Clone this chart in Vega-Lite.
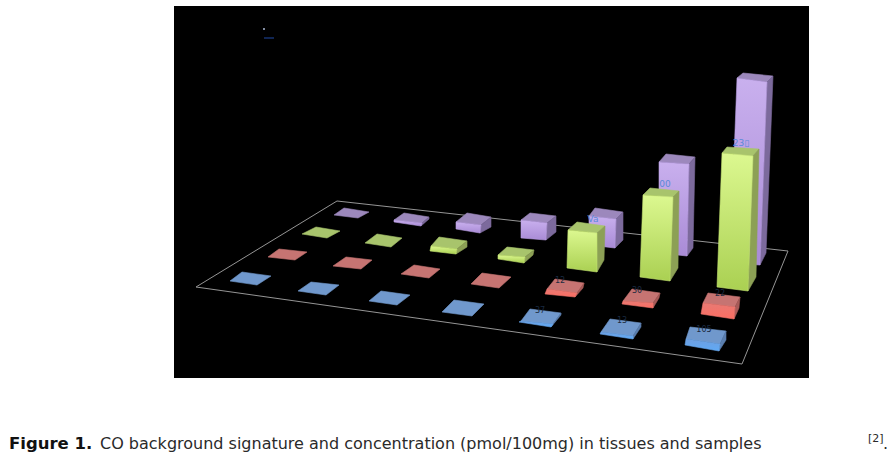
{"$schema":"https://vega.github.io/schema/vega-lite/v6.json","width":894,"height":461,"autosize":{"type":"fit","contains":"padding"},"padding":0,"background":"white","view":{"stroke":null},
"datasets":{
"panel":[{"x":174,"x2":809,"y":6,"y2":378}],
"floor":[{"o":0,"x":196,"y":287},{"o":1,"x":337,"y":201},{"o":2,"x":788,"y":251},{"o":3,"x":742,"y":364},{"o":4,"x":196,"y":287}],
"tick":[{"o":0,"x":264,"y":38},{"o":1,"x":274,"y":38}],
"dot":[{"x":264,"y":29}],
"labels":[{"x":741,"y":143,"t":"23▯","c":"blue"},{"x":665,"y":184,"t":"00","c":"blue"},{"x":593,"y":219,"t":"Va","c":"blue"},{"x":704,"y":330,"t":"105","c":"dark"},{"x":622,"y":321,"t":"13","c":"dark"},{"x":540,"y":311,"t":"37","c":"dark"},{"x":560,"y":281,"t":"12","c":"dark"},{"x":637,"y":291,"t":"30","c":"dark"},{"x":720,"y":294,"t":"22","c":"dark"}],
"caption":[{"x":9,"y":449,"t":"Figure 1.","k":"b"},{"x":100,"y":449,"t":"CO background signature and concentration (pmol/100mg) in tissues and samples","k":"r"},{"x":868,"y":442,"t":"[2]","k":"s"},{"x":883,"y":449,"t":".","k":"r"}],
"faces":[
{"s":"P","n":1,"f":"top","o":0,"x":344,"y":208},{"s":"P","n":1,"f":"top","o":1,"x":369,"y":212},{"s":"P","n":1,"f":"top","o":2,"x":358,"y":218},{"s":"P","n":1,"f":"top","o":3,"x":334,"y":215},
{"s":"P","n":2,"f":"top","o":0,"x":404,"y":213},{"s":"P","n":2,"f":"top","o":1,"x":429,"y":217},{"s":"P","n":2,"f":"top","o":2,"x":422,"y":223},{"s":"P","n":2,"f":"top","o":3,"x":394,"y":220},
{"s":"P","n":2,"f":"front","o":0,"x":394,"y":220},{"s":"P","n":2,"f":"front","o":1,"x":422,"y":223},{"s":"P","n":2,"f":"front","o":2,"x":421,"y":226},{"s":"P","n":2,"f":"front","o":3,"x":394,"y":222},
{"s":"P","n":2,"f":"side","o":0,"x":429,"y":217},{"s":"P","n":2,"f":"side","o":1,"x":422,"y":223},{"s":"P","n":2,"f":"side","o":2,"x":421,"y":226},{"s":"P","n":2,"f":"side","o":3,"x":429,"y":219},
{"s":"P","n":3,"f":"top","o":0,"x":467,"y":213},{"s":"P","n":3,"f":"top","o":1,"x":491,"y":217},{"s":"P","n":3,"f":"top","o":2,"x":481,"y":225},{"s":"P","n":3,"f":"top","o":3,"x":456,"y":222},
{"s":"P","n":3,"f":"front","o":0,"x":456,"y":222},{"s":"P","n":3,"f":"front","o":1,"x":481,"y":225},{"s":"P","n":3,"f":"front","o":2,"x":480,"y":233},{"s":"P","n":3,"f":"front","o":3,"x":456,"y":229},
{"s":"P","n":3,"f":"side","o":0,"x":491,"y":217},{"s":"P","n":3,"f":"side","o":1,"x":481,"y":225},{"s":"P","n":3,"f":"side","o":2,"x":480,"y":233},{"s":"P","n":3,"f":"side","o":3,"x":491,"y":227},
{"s":"P","n":4,"f":"top","o":0,"x":530,"y":213},{"s":"P","n":4,"f":"top","o":1,"x":556,"y":216},{"s":"P","n":4,"f":"top","o":2,"x":547,"y":223},{"s":"P","n":4,"f":"top","o":3,"x":521,"y":220},
{"s":"P","n":4,"f":"front","o":0,"x":521,"y":220},{"s":"P","n":4,"f":"front","o":1,"x":547,"y":223},{"s":"P","n":4,"f":"front","o":2,"x":546,"y":240},{"s":"P","n":4,"f":"front","o":3,"x":521,"y":238},
{"s":"P","n":4,"f":"side","o":0,"x":556,"y":216},{"s":"P","n":4,"f":"side","o":1,"x":547,"y":223},{"s":"P","n":4,"f":"side","o":2,"x":546,"y":240},{"s":"P","n":4,"f":"side","o":3,"x":556,"y":232},
{"s":"P","n":5,"f":"top","o":0,"x":595,"y":208},{"s":"P","n":5,"f":"top","o":1,"x":623,"y":212},{"s":"P","n":5,"f":"top","o":2,"x":616,"y":219},{"s":"P","n":5,"f":"top","o":3,"x":589,"y":216},
{"s":"P","n":5,"f":"front","o":0,"x":589,"y":216},{"s":"P","n":5,"f":"front","o":1,"x":616,"y":219},{"s":"P","n":5,"f":"front","o":2,"x":615,"y":248},{"s":"P","n":5,"f":"front","o":3,"x":589,"y":245},
{"s":"P","n":5,"f":"side","o":0,"x":623,"y":212},{"s":"P","n":5,"f":"side","o":1,"x":616,"y":219},{"s":"P","n":5,"f":"side","o":2,"x":615,"y":248},{"s":"P","n":5,"f":"side","o":3,"x":623,"y":240},
{"s":"P","n":6,"f":"top","o":0,"x":666,"y":154},{"s":"P","n":6,"f":"top","o":1,"x":695,"y":157},{"s":"P","n":6,"f":"top","o":2,"x":689,"y":164},{"s":"P","n":6,"f":"top","o":3,"x":659,"y":162},
{"s":"P","n":6,"f":"front","o":0,"x":659,"y":162},{"s":"P","n":6,"f":"front","o":1,"x":689,"y":164},{"s":"P","n":6,"f":"front","o":2,"x":687,"y":256},{"s":"P","n":6,"f":"front","o":3,"x":659,"y":253},
{"s":"P","n":6,"f":"side","o":0,"x":695,"y":157},{"s":"P","n":6,"f":"side","o":1,"x":689,"y":164},{"s":"P","n":6,"f":"side","o":2,"x":687,"y":256},{"s":"P","n":6,"f":"side","o":3,"x":693,"y":248},
{"s":"P","n":7,"f":"top","o":0,"x":743,"y":73},{"s":"P","n":7,"f":"top","o":1,"x":773,"y":76},{"s":"P","n":7,"f":"top","o":2,"x":767,"y":82},{"s":"P","n":7,"f":"top","o":3,"x":737,"y":78},
{"s":"P","n":7,"f":"front","o":0,"x":737,"y":78},{"s":"P","n":7,"f":"front","o":1,"x":767,"y":82},{"s":"P","n":7,"f":"front","o":2,"x":760,"y":265},{"s":"P","n":7,"f":"front","o":3,"x":730,"y":263},
{"s":"P","n":7,"f":"side","o":0,"x":773,"y":76},{"s":"P","n":7,"f":"side","o":1,"x":767,"y":82},{"s":"P","n":7,"f":"side","o":2,"x":760,"y":265},{"s":"P","n":7,"f":"side","o":3,"x":766,"y":253},

{"s":"G","n":1,"f":"top","o":0,"x":316,"y":227},{"s":"G","n":1,"f":"top","o":1,"x":340,"y":231},{"s":"G","n":1,"f":"top","o":2,"x":327,"y":238},{"s":"G","n":1,"f":"top","o":3,"x":302,"y":234},
{"s":"G","n":2,"f":"top","o":0,"x":377,"y":234},{"s":"G","n":2,"f":"top","o":1,"x":402,"y":238},{"s":"G","n":2,"f":"top","o":2,"x":391,"y":247},{"s":"G","n":2,"f":"top","o":3,"x":365,"y":243},
{"s":"G","n":3,"f":"top","o":0,"x":439,"y":237},{"s":"G","n":3,"f":"top","o":1,"x":467,"y":241},{"s":"G","n":3,"f":"top","o":2,"x":457,"y":249},{"s":"G","n":3,"f":"top","o":3,"x":431,"y":246},
{"s":"G","n":3,"f":"front","o":0,"x":431,"y":246},{"s":"G","n":3,"f":"front","o":1,"x":457,"y":249},{"s":"G","n":3,"f":"front","o":2,"x":456,"y":254},{"s":"G","n":3,"f":"front","o":3,"x":430,"y":251},
{"s":"G","n":3,"f":"side","o":0,"x":467,"y":241},{"s":"G","n":3,"f":"side","o":1,"x":457,"y":249},{"s":"G","n":3,"f":"side","o":2,"x":456,"y":254},{"s":"G","n":3,"f":"side","o":3,"x":467,"y":247},
{"s":"G","n":4,"f":"top","o":0,"x":507,"y":247},{"s":"G","n":4,"f":"top","o":1,"x":534,"y":250},{"s":"G","n":4,"f":"top","o":2,"x":525,"y":257},{"s":"G","n":4,"f":"top","o":3,"x":498,"y":255},
{"s":"G","n":4,"f":"front","o":0,"x":498,"y":255},{"s":"G","n":4,"f":"front","o":1,"x":525,"y":257},{"s":"G","n":4,"f":"front","o":2,"x":524,"y":263},{"s":"G","n":4,"f":"front","o":3,"x":498,"y":259},
{"s":"G","n":4,"f":"side","o":0,"x":534,"y":250},{"s":"G","n":4,"f":"side","o":1,"x":525,"y":257},{"s":"G","n":4,"f":"side","o":2,"x":524,"y":263},{"s":"G","n":4,"f":"side","o":3,"x":533,"y":255},
{"s":"G","n":5,"f":"top","o":0,"x":577,"y":222},{"s":"G","n":5,"f":"top","o":1,"x":605,"y":226},{"s":"G","n":5,"f":"top","o":2,"x":597,"y":233},{"s":"G","n":5,"f":"top","o":3,"x":568,"y":230},
{"s":"G","n":5,"f":"front","o":0,"x":568,"y":230},{"s":"G","n":5,"f":"front","o":1,"x":597,"y":233},{"s":"G","n":5,"f":"front","o":2,"x":597,"y":272},{"s":"G","n":5,"f":"front","o":3,"x":567,"y":268},
{"s":"G","n":5,"f":"side","o":0,"x":605,"y":226},{"s":"G","n":5,"f":"side","o":1,"x":597,"y":233},{"s":"G","n":5,"f":"side","o":2,"x":597,"y":272},{"s":"G","n":5,"f":"side","o":3,"x":604,"y":260},
{"s":"G","n":6,"f":"top","o":0,"x":650,"y":188},{"s":"G","n":6,"f":"top","o":1,"x":679,"y":191},{"s":"G","n":6,"f":"top","o":2,"x":673,"y":197},{"s":"G","n":6,"f":"top","o":3,"x":643,"y":195},
{"s":"G","n":6,"f":"front","o":0,"x":643,"y":195},{"s":"G","n":6,"f":"front","o":1,"x":673,"y":197},{"s":"G","n":6,"f":"front","o":2,"x":670,"y":281},{"s":"G","n":6,"f":"front","o":3,"x":640,"y":277},
{"s":"G","n":6,"f":"side","o":0,"x":679,"y":191},{"s":"G","n":6,"f":"side","o":1,"x":673,"y":197},{"s":"G","n":6,"f":"side","o":2,"x":670,"y":281},{"s":"G","n":6,"f":"side","o":3,"x":678,"y":268},
{"s":"G","n":7,"f":"top","o":0,"x":727,"y":147},{"s":"G","n":7,"f":"top","o":1,"x":759,"y":149},{"s":"G","n":7,"f":"top","o":2,"x":753,"y":156},{"s":"G","n":7,"f":"top","o":3,"x":722,"y":153},
{"s":"G","n":7,"f":"front","o":0,"x":722,"y":153},{"s":"G","n":7,"f":"front","o":1,"x":753,"y":156},{"s":"G","n":7,"f":"front","o":2,"x":748,"y":291},{"s":"G","n":7,"f":"front","o":3,"x":717,"y":287},
{"s":"G","n":7,"f":"side","o":0,"x":759,"y":149},{"s":"G","n":7,"f":"side","o":1,"x":753,"y":156},{"s":"G","n":7,"f":"side","o":2,"x":748,"y":291},{"s":"G","n":7,"f":"side","o":3,"x":756,"y":277},

{"s":"R","n":1,"f":"top","o":0,"x":279,"y":249},{"s":"R","n":1,"f":"top","o":1,"x":307,"y":252},{"s":"R","n":1,"f":"top","o":2,"x":295,"y":260},{"s":"R","n":1,"f":"top","o":3,"x":268,"y":257},
{"s":"R","n":2,"f":"top","o":0,"x":346,"y":257},{"s":"R","n":2,"f":"top","o":1,"x":372,"y":260},{"s":"R","n":2,"f":"top","o":2,"x":361,"y":269},{"s":"R","n":2,"f":"top","o":3,"x":333,"y":266},
{"s":"R","n":3,"f":"top","o":0,"x":414,"y":265},{"s":"R","n":3,"f":"top","o":1,"x":440,"y":269},{"s":"R","n":3,"f":"top","o":2,"x":429,"y":278},{"s":"R","n":3,"f":"top","o":3,"x":401,"y":274},
{"s":"R","n":4,"f":"top","o":0,"x":482,"y":273},{"s":"R","n":4,"f":"top","o":1,"x":511,"y":277},{"s":"R","n":4,"f":"top","o":2,"x":499,"y":288},{"s":"R","n":4,"f":"top","o":3,"x":471,"y":284},
{"s":"R","n":5,"f":"top","o":0,"x":555,"y":279},{"s":"R","n":5,"f":"top","o":1,"x":584,"y":283},{"s":"R","n":5,"f":"top","o":2,"x":577,"y":293},{"s":"R","n":5,"f":"top","o":3,"x":547,"y":289},
{"s":"R","n":5,"f":"front","o":0,"x":547,"y":289},{"s":"R","n":5,"f":"front","o":1,"x":577,"y":293},{"s":"R","n":5,"f":"front","o":2,"x":575,"y":297},{"s":"R","n":5,"f":"front","o":3,"x":545,"y":294},
{"s":"R","n":5,"f":"side","o":0,"x":584,"y":283},{"s":"R","n":5,"f":"side","o":1,"x":577,"y":293},{"s":"R","n":5,"f":"side","o":2,"x":575,"y":297},{"s":"R","n":5,"f":"side","o":3,"x":583,"y":288},
{"s":"R","n":6,"f":"top","o":0,"x":632,"y":289},{"s":"R","n":6,"f":"top","o":1,"x":660,"y":293},{"s":"R","n":6,"f":"top","o":2,"x":653,"y":303},{"s":"R","n":6,"f":"top","o":3,"x":623,"y":301},
{"s":"R","n":6,"f":"front","o":0,"x":623,"y":301},{"s":"R","n":6,"f":"front","o":1,"x":653,"y":303},{"s":"R","n":6,"f":"front","o":2,"x":653,"y":308},{"s":"R","n":6,"f":"front","o":3,"x":622,"y":304},
{"s":"R","n":6,"f":"side","o":0,"x":660,"y":293},{"s":"R","n":6,"f":"side","o":1,"x":653,"y":303},{"s":"R","n":6,"f":"side","o":2,"x":653,"y":308},{"s":"R","n":6,"f":"side","o":3,"x":659,"y":298},
{"s":"R","n":7,"f":"top","o":0,"x":708,"y":293},{"s":"R","n":7,"f":"top","o":1,"x":740,"y":297},{"s":"R","n":7,"f":"top","o":2,"x":735,"y":307},{"s":"R","n":7,"f":"top","o":3,"x":703,"y":303},
{"s":"R","n":7,"f":"front","o":0,"x":703,"y":303},{"s":"R","n":7,"f":"front","o":1,"x":735,"y":307},{"s":"R","n":7,"f":"front","o":2,"x":734,"y":319},{"s":"R","n":7,"f":"front","o":3,"x":701,"y":314},
{"s":"R","n":7,"f":"side","o":0,"x":740,"y":297},{"s":"R","n":7,"f":"side","o":1,"x":735,"y":307},{"s":"R","n":7,"f":"side","o":2,"x":734,"y":319},{"s":"R","n":7,"f":"side","o":3,"x":739,"y":308},

{"s":"B","n":1,"f":"top","o":0,"x":242,"y":272},{"s":"B","n":1,"f":"top","o":1,"x":271,"y":276},{"s":"B","n":1,"f":"top","o":2,"x":257,"y":285},{"s":"B","n":1,"f":"top","o":3,"x":230,"y":281},
{"s":"B","n":2,"f":"top","o":0,"x":311,"y":282},{"s":"B","n":2,"f":"top","o":1,"x":339,"y":285},{"s":"B","n":2,"f":"top","o":2,"x":326,"y":295},{"s":"B","n":2,"f":"top","o":3,"x":298,"y":291},
{"s":"B","n":3,"f":"top","o":0,"x":381,"y":291},{"s":"B","n":3,"f":"top","o":1,"x":410,"y":295},{"s":"B","n":3,"f":"top","o":2,"x":397,"y":305},{"s":"B","n":3,"f":"top","o":3,"x":369,"y":301},
{"s":"B","n":4,"f":"top","o":0,"x":454,"y":300},{"s":"B","n":4,"f":"top","o":1,"x":484,"y":304},{"s":"B","n":4,"f":"top","o":2,"x":472,"y":316},{"s":"B","n":4,"f":"top","o":3,"x":442,"y":312},
{"s":"B","n":5,"f":"top","o":0,"x":530,"y":309},{"s":"B","n":5,"f":"top","o":1,"x":561,"y":313},{"s":"B","n":5,"f":"top","o":2,"x":553,"y":324},{"s":"B","n":5,"f":"top","o":3,"x":521,"y":321},
{"s":"B","n":5,"f":"front","o":0,"x":521,"y":321},{"s":"B","n":5,"f":"front","o":1,"x":553,"y":324},{"s":"B","n":5,"f":"front","o":2,"x":551,"y":327},{"s":"B","n":5,"f":"front","o":3,"x":519,"y":322},
{"s":"B","n":5,"f":"side","o":0,"x":561,"y":313},{"s":"B","n":5,"f":"side","o":1,"x":553,"y":324},{"s":"B","n":5,"f":"side","o":2,"x":551,"y":327},{"s":"B","n":5,"f":"side","o":3,"x":561,"y":315},
{"s":"B","n":6,"f":"top","o":0,"x":610,"y":319},{"s":"B","n":6,"f":"top","o":1,"x":641,"y":323},{"s":"B","n":6,"f":"top","o":2,"x":633,"y":336},{"s":"B","n":6,"f":"top","o":3,"x":601,"y":332},
{"s":"B","n":6,"f":"front","o":0,"x":601,"y":332},{"s":"B","n":6,"f":"front","o":1,"x":633,"y":336},{"s":"B","n":6,"f":"front","o":2,"x":633,"y":339},{"s":"B","n":6,"f":"front","o":3,"x":600,"y":334},
{"s":"B","n":6,"f":"side","o":0,"x":641,"y":323},{"s":"B","n":6,"f":"side","o":1,"x":633,"y":336},{"s":"B","n":6,"f":"side","o":2,"x":633,"y":339},{"s":"B","n":6,"f":"side","o":3,"x":641,"y":327},
{"s":"B","n":7,"f":"top","o":0,"x":690,"y":327},{"s":"B","n":7,"f":"top","o":1,"x":726,"y":331},{"s":"B","n":7,"f":"top","o":2,"x":720,"y":344},{"s":"B","n":7,"f":"top","o":3,"x":686,"y":339},
{"s":"B","n":7,"f":"front","o":0,"x":686,"y":339},{"s":"B","n":7,"f":"front","o":1,"x":720,"y":344},{"s":"B","n":7,"f":"front","o":2,"x":719,"y":351},{"s":"B","n":7,"f":"front","o":3,"x":685,"y":345},
{"s":"B","n":7,"f":"side","o":0,"x":726,"y":331},{"s":"B","n":7,"f":"side","o":1,"x":720,"y":344},{"s":"B","n":7,"f":"side","o":2,"x":719,"y":351},{"s":"B","n":7,"f":"side","o":3,"x":726,"y":340}
]},
"encoding":{"x":{"field":"x","type":"quantitative","axis":null,"scale":{"domain":[0,894],"nice":false,"zero":false}},"y":{"field":"y","type":"quantitative","axis":null,"scale":{"domain":[461,0],"nice":false,"zero":false}}},
"layer":[
{"data":{"name":"panel"},"mark":{"type":"rect","fill":"#000000"},"encoding":{"x2":{"field":"x2"},"y2":{"field":"y2"}}},
{"data":{"name":"floor"},"mark":{"type":"line","stroke":"#959595","strokeWidth":1},"encoding":{"order":{"field":"o"}}},
{"data":{"name":"tick"},"mark":{"type":"line","stroke":"#1c3f8c","strokeWidth":1.2},"encoding":{"order":{"field":"o"}}},
{"data":{"name":"dot"},"mark":{"type":"square","size":3,"fill":"#c8d8f8","opacity":1}},
{"data":{"name":"faces"},"transform":[{"filter":"datum.s=='P'&&datum.f=='top'"}],"mark":{"type":"line","interpolate":"linear-closed","fill":"#9c88bc","stroke":"#9c88bc","strokeWidth":0.6},"encoding":{"detail":{"field":"n"},"order":{"field":"o"}}},
{"data":{"name":"faces"},"transform":[{"filter":"datum.s=='P'&&datum.f=='side'"}],"mark":{"type":"line","interpolate":"linear-closed","fill":"#7c6a9c","stroke":"#7c6a9c","strokeWidth":0.6},"encoding":{"detail":{"field":"n"},"order":{"field":"o"}}},
{"data":{"name":"faces"},"transform":[{"filter":"datum.s=='P'&&datum.f=='front'"}],"mark":{"type":"line","interpolate":"linear-closed","fill":{"gradient":"linear","x1":0,"y1":0,"x2":0,"y2":1,"stops":[{"offset":0,"color":"#c9b0ee"},{"offset":1,"color":"#a98bd6"}]},"stroke":"#b89ee2","strokeWidth":0.6},"encoding":{"detail":{"field":"n"},"order":{"field":"o"}}},
{"data":{"name":"faces"},"transform":[{"filter":"datum.s=='G'&&datum.f=='top'"}],"mark":{"type":"line","interpolate":"linear-closed","fill":"#a8c46c","stroke":"#a8c46c","strokeWidth":0.6},"encoding":{"detail":{"field":"n"},"order":{"field":"o"}}},
{"data":{"name":"faces"},"transform":[{"filter":"datum.s=='G'&&datum.f=='side'"}],"mark":{"type":"line","interpolate":"linear-closed","fill":"#8ca055","stroke":"#8ca055","strokeWidth":0.6},"encoding":{"detail":{"field":"n"},"order":{"field":"o"}}},
{"data":{"name":"faces"},"transform":[{"filter":"datum.s=='G'&&datum.f=='front'"}],"mark":{"type":"line","interpolate":"linear-closed","fill":{"gradient":"linear","x1":0,"y1":0,"x2":0,"y2":1,"stops":[{"offset":0,"color":"#dcf890"},{"offset":1,"color":"#aad052"}]},"stroke":"#c4e470","strokeWidth":0.6},"encoding":{"detail":{"field":"n"},"order":{"field":"o"}}},
{"data":{"name":"faces"},"transform":[{"filter":"datum.s=='R'&&datum.f=='top'"}],"mark":{"type":"line","interpolate":"linear-closed","fill":"#c67472","stroke":"#c67472","strokeWidth":0.6},"encoding":{"detail":{"field":"n"},"order":{"field":"o"}}},
{"data":{"name":"faces"},"transform":[{"filter":"datum.s=='R'&&datum.f=='side'"}],"mark":{"type":"line","interpolate":"linear-closed","fill":"#a85a58","stroke":"#a85a58","strokeWidth":0.6},"encoding":{"detail":{"field":"n"},"order":{"field":"o"}}},
{"data":{"name":"faces"},"transform":[{"filter":"datum.s=='R'&&datum.f=='front'"}],"mark":{"type":"line","interpolate":"linear-closed","fill":{"gradient":"linear","x1":0,"y1":0,"x2":0,"y2":1,"stops":[{"offset":0,"color":"#e87a74"},{"offset":1,"color":"#fb6d62"}]},"stroke":"#f0746b","strokeWidth":0.6},"encoding":{"detail":{"field":"n"},"order":{"field":"o"}}},
{"data":{"name":"faces"},"transform":[{"filter":"datum.s=='B'&&datum.f=='top'"}],"mark":{"type":"line","interpolate":"linear-closed","fill":"#7098cc","stroke":"#7098cc","strokeWidth":0.6},"encoding":{"detail":{"field":"n"},"order":{"field":"o"}}},
{"data":{"name":"faces"},"transform":[{"filter":"datum.s=='B'&&datum.f=='side'"}],"mark":{"type":"line","interpolate":"linear-closed","fill":"#5a7eae","stroke":"#5a7eae","strokeWidth":0.6},"encoding":{"detail":{"field":"n"},"order":{"field":"o"}}},
{"data":{"name":"faces"},"transform":[{"filter":"datum.s=='B'&&datum.f=='front'"}],"mark":{"type":"line","interpolate":"linear-closed","fill":{"gradient":"linear","x1":0,"y1":0,"x2":0,"y2":1,"stops":[{"offset":0,"color":"#6f9fe0"},{"offset":1,"color":"#5faaf6"}]},"stroke":"#66a4ea","strokeWidth":0.6},"encoding":{"detail":{"field":"n"},"order":{"field":"o"}}},
{"data":{"name":"labels"},"transform":[{"filter":"datum.c=='blue'"}],"mark":{"type":"text","font":"DejaVu Sans","fontSize":9,"fill":"#5a8ad8","align":"center","baseline":"middle"},"encoding":{"text":{"field":"t"}}},
{"data":{"name":"labels"},"transform":[{"filter":"datum.c=='dark'"}],"mark":{"type":"text","font":"DejaVu Sans","fontSize":8,"fill":"#1a2a40","align":"center","baseline":"middle"},"encoding":{"text":{"field":"t"}}},
{"data":{"name":"caption"},"transform":[{"filter":"datum.k=='b'"}],"mark":{"type":"text","font":"DejaVu Sans","fontSize":16.5,"fontWeight":"bold","fill":"#111111","align":"left","baseline":"alphabetic"},"encoding":{"text":{"field":"t"}}},
{"data":{"name":"caption"},"transform":[{"filter":"datum.k=='r'"}],"mark":{"type":"text","font":"DejaVu Sans","fontSize":16,"fill":"#2a2a2a","align":"left","baseline":"alphabetic"},"encoding":{"text":{"field":"t"}}},
{"data":{"name":"caption"},"transform":[{"filter":"datum.k=='s'"}],"mark":{"type":"text","font":"DejaVu Sans","fontSize":11,"fill":"#2a2a2a","align":"left","baseline":"alphabetic"},"encoding":{"text":{"field":"t"}}}
]}
